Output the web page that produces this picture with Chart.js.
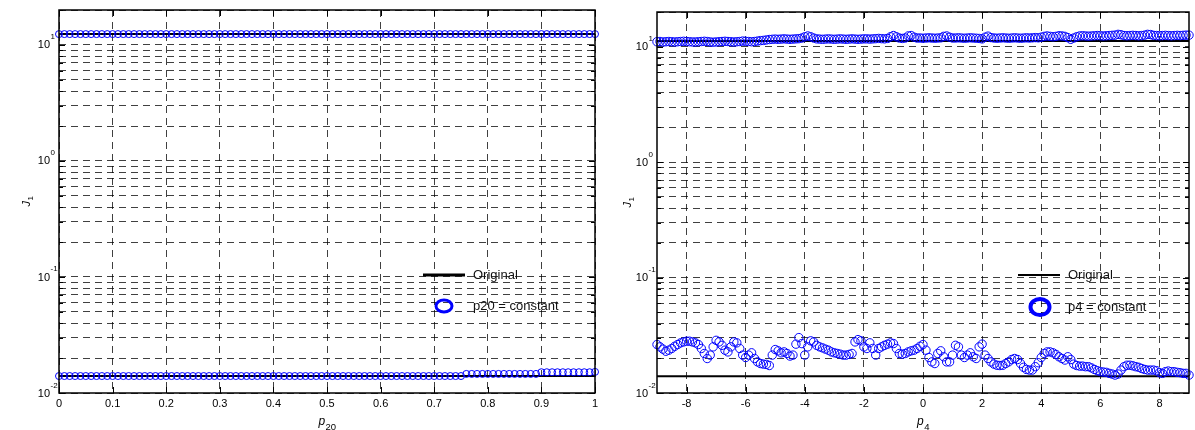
<!DOCTYPE html>
<html><head><meta charset="utf-8">
<script src="https://cdn.jsdelivr.net/npm/chart.js@4/dist/chart.umd.min.js"></script>
<style>
html,body{margin:0;padding:0;background:#fff;width:1195px;height:430px;overflow:hidden}
#c1{position:absolute;left:0;top:0}
#c2{position:absolute;left:600px;top:0}
</style></head><body>
<canvas id="c1" width="600" height="430"></canvas>
<canvas id="c2" width="595" height="430"></canvas>
<script>
// ---------- data: left panel (p20 sweep) ----------
const p20 = [0,0.01,0.02,0.03,0.04,0.05,0.06,0.07,0.08,0.09,
 0.1,0.11,0.12,0.13,0.14,0.15,0.16,0.17,0.18,0.19,
 0.2,0.21,0.22,0.23,0.24,0.25,0.26,0.27,0.28,0.29,
 0.3,0.31,0.32,0.33,0.34,0.35,0.36,0.37,0.38,0.39,
 0.4,0.41,0.42,0.43,0.44,0.45,0.46,0.47,0.48,0.49,
 0.5,0.51,0.52,0.53,0.54,0.55,0.56,0.57,0.58,0.59,
 0.6,0.61,0.62,0.63,0.64,0.65,0.66,0.67,0.68,0.69,
 0.7,0.71,0.72,0.73,0.74,0.75,0.76,0.77,0.78,0.79,
 0.8,0.81,0.82,0.83,0.84,0.85,0.86,0.87,0.88,0.89,
 0.9,0.91,0.92,0.93,0.94,0.95,0.96,0.97,0.98,0.99,1];
const J1_p20_upper = [12.4,12.4,12.4,12.4,12.4,12.4,12.4,12.4,12.4,12.4,
 12.4,12.4,12.4,12.4,12.4,12.4,12.4,12.4,12.4,12.4,
 12.4,12.4,12.4,12.4,12.4,12.4,12.4,12.4,12.4,12.4,
 12.4,12.4,12.4,12.4,12.4,12.4,12.4,12.4,12.4,12.4,
 12.4,12.4,12.4,12.4,12.4,12.4,12.4,12.4,12.4,12.4,
 12.4,12.4,12.4,12.4,12.4,12.4,12.4,12.4,12.4,12.4,
 12.4,12.4,12.4,12.4,12.4,12.4,12.4,12.4,12.4,12.4,
 12.4,12.4,12.4,12.4,12.4,12.4,12.4,12.4,12.4,12.4,
 12.4,12.4,12.4,12.4,12.4,12.4,12.4,12.4,12.4,12.4,
 12.4,12.4,12.4,12.4,12.4,12.4,12.4,12.4,12.4,12.4,12.4];
const J1_p20_lower = [0.0140,0.0140,0.0140,0.0140,0.0140,0.0140,0.0140,0.0140,0.0140,0.0140,
 0.0140,0.0140,0.0140,0.0140,0.0140,0.0140,0.0140,0.0140,0.0140,0.0140,
 0.0140,0.0140,0.0140,0.0140,0.0140,0.0140,0.0140,0.0140,0.0140,0.0140,
 0.0140,0.0140,0.0140,0.0140,0.0140,0.0140,0.0140,0.0140,0.0140,0.0140,
 0.0140,0.0140,0.0140,0.0140,0.0140,0.0140,0.0140,0.0140,0.0140,0.0140,
 0.0140,0.0140,0.0140,0.0140,0.0140,0.0140,0.0140,0.0140,0.0140,0.0140,
 0.0140,0.0140,0.0140,0.0140,0.0140,0.0140,0.0140,0.0140,0.0140,0.0140,
 0.0140,0.0140,0.0140,0.0140,0.0140,0.0140,0.0146,0.0146,0.0146,0.0146,
 0.0146,0.0146,0.0146,0.0146,0.0146,0.0146,0.0146,0.0146,0.0146,0.0146,
 0.0151,0.0151,0.0151,0.0151,0.0151,0.0151,0.0151,0.0151,0.0151,0.0151,0.0152];
const J1_original_left = [12.4, 0.0140];
const p20Ticks = [0,0.1,0.2,0.3,0.4,0.5,0.6,0.7,0.8,0.9,1];

// ---------- data: right panel (p4 sweep) ----------
const p4 = [-9,-8.9,-8.8,-8.7,-8.6,-8.5,-8.4,-8.3,-8.2,-8.1,
 -8,-7.9,-7.8,-7.7,-7.6,-7.5,-7.4,-7.3,-7.2,-7.1,
 -7,-6.9,-6.8,-6.7,-6.6,-6.5,-6.4,-6.3,-6.2,-6.1,
 -6,-5.9,-5.8,-5.7,-5.6,-5.5,-5.4,-5.3,-5.2,-5.1,
 -5,-4.9,-4.8,-4.7,-4.6,-4.5,-4.4,-4.3,-4.2,-4.1,
 -4,-3.9,-3.8,-3.7,-3.6,-3.5,-3.4,-3.3,-3.2,-3.1,
 -3,-2.9,-2.8,-2.7,-2.6,-2.5,-2.4,-2.3,-2.2,-2.1,
 -2,-1.9,-1.8,-1.7,-1.6,-1.5,-1.4,-1.3,-1.2,-1.1,
 -1,-0.9,-0.8,-0.7,-0.6,-0.5,-0.4,-0.3,-0.2,-0.1,
 0,0.1,0.2,0.3,0.4,0.5,0.6,0.7,0.8,0.9,
 1,1.1,1.2,1.3,1.4,1.5,1.6,1.7,1.8,1.9,
 2,2.1,2.2,2.3,2.4,2.5,2.6,2.7,2.8,2.9,
 3,3.1,3.2,3.3,3.4,3.5,3.6,3.7,3.8,3.9,
 4,4.1,4.2,4.3,4.4,4.5,4.6,4.7,4.8,4.9,
 5,5.1,5.2,5.3,5.4,5.5,5.6,5.7,5.8,5.9,
 6,6.1,6.2,6.3,6.4,6.5,6.6,6.7,6.8,6.9,
 7,7.1,7.2,7.3,7.4,7.5,7.6,7.7,7.8,7.9,
 8,8.1,8.2,8.3,8.4,8.5,8.6,8.7,8.8,8.9,9];
const J1_p4_upper = [11.05,11.1,11.0,11.05,11.1,11.05,11.0,11.05,11.1,11.15,
 11.1,11.05,11.0,11.0,11.05,11.1,11.15,11.1,11.0,10.95,
 11.0,11.05,11.1,11.15,11.1,11.05,11.0,11.05,11.1,11.2,
 11.15,11.1,11.05,11.1,11.2,11.3,11.35,11.45,11.55,11.6,
 11.65,11.6,11.65,11.7,11.65,11.6,11.65,11.7,11.75,11.9,
 12.2,12.4,12.2,11.9,11.7,11.65,11.6,11.65,11.7,11.65,
 11.6,11.65,11.7,11.65,11.6,11.65,11.7,11.65,11.6,11.65,
 11.7,11.7,11.65,11.7,11.75,11.8,11.75,11.7,11.8,12.2,
 12.5,12.2,11.9,11.8,11.9,12.4,12.5,12.1,11.9,11.9,
 11.85,11.9,11.95,11.9,11.85,11.9,11.95,12.3,12.4,12.1,
 11.9,11.9,11.95,11.9,11.85,11.9,11.95,11.9,11.85,11.8,
 11.7,12.1,12.35,12.0,11.9,11.85,11.9,11.95,11.9,11.85,
 11.9,11.95,11.9,11.85,11.9,11.95,11.9,11.95,12.0,11.95,
 12.1,12.3,12.4,12.3,12.2,12.3,12.45,12.4,12.3,12.0,
 11.6,11.9,12.2,12.4,12.45,12.4,12.35,12.4,12.45,12.5,
 12.45,12.4,12.45,12.5,12.55,12.6,12.8,12.7,12.5,12.45,
 12.5,12.55,12.5,12.45,12.5,12.6,12.8,12.75,12.55,12.5,
 12.45,12.5,12.55,12.5,12.45,12.5,12.55,12.5,12.55,12.6,12.6];
const J1_p4_lower = [0.0263,0.0251,0.0240,0.0230,0.0235,0.0243,0.0254,0.0263,0.0272,0.0277,
 0.0281,0.0281,0.0277,0.0272,0.0263,0.0243,0.0220,0.0199,0.0213,0.0251,
 0.0286,0.0277,0.0259,0.0235,0.0227,0.0251,0.0277,0.0272,0.0243,0.0213,
 0.0203,0.0213,0.0223,0.0199,0.0186,0.0180,0.0178,0.0177,0.0173,0.0213,
 0.0238,0.0232,0.0223,0.0227,0.0220,0.0209,0.0213,0.0265,0.0302,0.0268,
 0.0213,0.0251,0.0283,0.0277,0.0259,0.0251,0.0246,0.0240,0.0235,0.0227,
 0.0223,0.0220,0.0217,0.0213,0.0213,0.0216,0.0220,0.0277,0.0290,0.0283,
 0.0251,0.0243,0.0272,0.0243,0.0213,0.0243,0.0251,0.0259,0.0265,0.0272,
 0.0268,0.0243,0.0220,0.0217,0.0220,0.0227,0.0232,0.0235,0.0243,0.0254,
 0.0263,0.0235,0.0203,0.0186,0.0180,0.0220,0.0232,0.0206,0.0186,0.0186,
 0.0213,0.0259,0.0251,0.0213,0.0203,0.0213,0.0223,0.0206,0.0199,0.0251,
 0.0265,0.0213,0.0199,0.0186,0.0178,0.0174,0.0173,0.0174,0.0180,0.0186,
 0.0195,0.0199,0.0195,0.0180,0.0167,0.0160,0.0158,0.0158,0.0169,0.0183,
 0.0203,0.0220,0.0227,0.0227,0.0223,0.0216,0.0206,0.0199,0.0193,0.0206,
 0.0195,0.0178,0.0173,0.0171,0.0171,0.0169,0.0169,0.0165,0.0160,0.0156,
 0.0153,0.0152,0.0151,0.0148,0.0146,0.0143,0.0146,0.0158,0.0169,0.0174,
 0.0174,0.0172,0.0169,0.0167,0.0163,0.0160,0.0158,0.0158,0.0158,0.0156,
 0.0150,0.0148,0.0153,0.0155,0.0153,0.0153,0.0151,0.0150,0.0148,0.0148,0.0143];
const J1_original_right = [11.2, 0.0140];
const p4Ticks = [-8,-6,-4,-2,0,2,4,6,8];

// ---------- shared axis ticks ----------
const yTicks = [0.01,0.02,0.03,0.04,0.05,0.06,0.07,0.08,0.09,
 0.1,0.2,0.3,0.4,0.5,0.6,0.7,0.8,0.9,
 1,2,3,4,5,6,7,8,9,10,20];
const yMajor = [0.01,0.1,1,10];
const yMajorExp = ['-2','-1','0','1'];
const yLimits = [0.01, 20];

const FONT = "'Liberation Sans', Arial, Helvetica, sans-serif";
const BLUE = '#0000ff';

function pts(xs, ys) { return xs.map((x, i) => ({x: x, y: ys[i]})); }
function hline(xs, v) { return [{x: xs[0], y: v}, {x: xs[xs.length - 1], y: v}]; }

function makeChart(id, o) {
  const framePlugin = {
    id: 'frame' + id,
    afterDraw(chart) {
      const ctx = chart.ctx, a = chart.chartArea;
      const xs = chart.scales.x, ys = chart.scales.y;
      ctx.save();
      ctx.strokeStyle = '#000';
      ctx.lineWidth = 1.5;
      ctx.strokeRect(a.left, a.top, a.right - a.left, a.bottom - a.top);
      ctx.lineWidth = 1;
      const seg = (x1, y1, x2, y2) => { ctx.beginPath(); ctx.moveTo(x1, y1); ctx.lineTo(x2, y2); ctx.stroke(); };
      o.xTicks.forEach(v => {
        const x = Math.round(xs.getPixelForValue(v)) + 0.5;
        seg(x, a.bottom, x, a.bottom - 6);
        seg(x, a.top, x, a.top + 6);
      });
      yTicks.forEach(v => {
        const y = Math.round(ys.getPixelForValue(v)) + 0.5;
        const l = yMajor.indexOf(v) >= 0 ? 6 : 4;
        seg(a.left, y, a.left + l, y);
        seg(a.right, y, a.right - l, y);
      });
      // y tick labels 10^k
      ctx.fillStyle = '#000';
      yMajor.forEach((v, i) => {
        const y = ys.getPixelForValue(v);
        ctx.font = '11px ' + FONT;
        ctx.textAlign = 'right';
        ctx.textBaseline = 'middle';
        ctx.fillText('10', a.left - 9, y + 0.5);
        ctx.font = '8px ' + FONT;
        ctx.textAlign = 'left';
        ctx.textBaseline = 'alphabetic';
        ctx.fillText(yMajorExp[i], a.left - 8.5, y - 5.5);
      });
      // y title J1 (rotated)
      ctx.save();
      ctx.translate(o.yTitleX, (a.top + a.bottom) / 2);
      ctx.rotate(-Math.PI / 2);
      ctx.font = 'italic 11px ' + FONT;
      const wJ = ctx.measureText('J').width;
      ctx.font = '8px ' + FONT;
      const w1 = ctx.measureText('1').width;
      const x0 = -(wJ + w1) / 2;
      ctx.textAlign = 'left';
      ctx.textBaseline = 'alphabetic';
      ctx.font = 'italic 11px ' + FONT;
      ctx.fillText('J', x0, 0);
      ctx.font = '8px ' + FONT;
      ctx.fillText('1', x0 + wJ + 0.5, 3);
      ctx.restore();
      // x title p_sub
      ctx.font = 'italic 12px ' + FONT;
      const wp = ctx.measureText('p').width;
      ctx.font = '9.5px ' + FONT;
      const ws = ctx.measureText(o.xSub).width;
      const cx = (a.left + a.right) / 2 - (wp + ws) / 2;
      ctx.textAlign = 'left';
      ctx.font = 'italic 12px ' + FONT;
      ctx.fillText('p', cx, 425);
      ctx.font = '9.5px ' + FONT;
      ctx.fillText(o.xSub, cx + wp + 0.5, 430);
      // legend (drawn inside axes, no box)
      const L = o.legend;
      ctx.strokeStyle = '#000';
      ctx.lineWidth = L.lineW;
      seg(L.lineX1, L.y1, L.lineX2, L.y1);
      ctx.strokeStyle = BLUE;
      ctx.lineWidth = L.markW;
      ctx.beginPath();
      ctx.ellipse(L.markX, L.y2, L.rx, L.ry, 0, 0, Math.PI * 2);
      ctx.stroke();
      ctx.fillStyle = '#111';
      ctx.font = '13px ' + FONT;
      ctx.textBaseline = 'middle';
      ctx.fillText('Original', L.textX, L.y1);
      ctx.fillText(o.legendLabel, L.textX, L.y2);
      ctx.restore();
    }
  };

  return new Chart(document.getElementById(id), {
    type: 'scatter',
    data: {
      datasets: [
        {label: o.legendLabel, data: pts(o.xs, o.upper), showLine: false, pointStyle: 'circle',
         pointRadius: o.r, pointBorderWidth: 1, borderColor: BLUE, backgroundColor: 'rgba(0,0,0,0)', clip: false},
        {label: o.legendLabel + ' (lower)', data: pts(o.xs, o.lower), showLine: false, pointStyle: 'circle',
         pointRadius: o.r, pointBorderWidth: 1, borderColor: BLUE, backgroundColor: 'rgba(0,0,0,0)', clip: false},
        {label: 'Original', data: hline(o.xs, o.original[0]), showLine: true, pointRadius: 0,
         borderColor: '#000', borderWidth: 2, clip: false},
        {label: 'Original (lower)', data: hline(o.xs, o.original[1]), showLine: true, pointRadius: 0,
         borderColor: '#000', borderWidth: 2, clip: false}
      ]
    },
    options: {
      responsive: false,
      animation: false,
      devicePixelRatio: 1,
      layout: {padding: {top: o.padTop, right: o.padRight, left: 0, bottom: 0}},
      plugins: {legend: {display: false}, tooltip: {enabled: false}},
      scales: {
        x: {
          type: 'linear', min: o.xMin, max: o.xMax,
          afterBuildTicks: s => { s.ticks = o.xTicks.map(v => ({value: v})); },
          afterFit: s => { s.height = 37; s.paddingLeft = 0; s.paddingRight = 0; },
          ticks: {color: '#000', font: {family: FONT, size: 11}, padding: 4, maxRotation: 0, autoSkip: false,
                  callback: v => String(v)},
          grid: {color: 'rgba(0,0,0,0.75)', lineWidth: 1, drawTicks: false},
          border: {display: false, dash: [7, 5]}
        },
        y: {
          type: 'logarithmic', min: yLimits[0], max: yLimits[1],
          afterBuildTicks: s => { s.ticks = yTicks.map(v => ({value: v, major: yMajor.indexOf(v) >= 0})); },
          afterFit: s => { s.width = o.yWidth; s.paddingTop = 0; s.paddingBottom = 0; },
          ticks: {display: false},
          grid: {color: 'rgba(0,0,0,0.75)', lineWidth: 1, drawTicks: false},
          border: {display: false, dash: [7, 5]}
        }
      }
    },
    plugins: [framePlugin]
  });
}

makeChart('c1', {
  xs: p20, upper: J1_p20_upper, lower: J1_p20_lower, original: J1_original_left,
  xMin: 0, xMax: 1, xTicks: p20Ticks, xSub: '20', r: 3.5,
  padTop: 10, padRight: 4, yWidth: 59, yTitleX: 30,
  legendLabel: 'p20 = constant',
  legend: {lineX1: 423, lineX2: 465, y1: 275, y2: 306, markX: 444, rx: 8, ry: 6, lineW: 3, markW: 3, textX: 473}
});
makeChart('c2', {
  xs: p4, upper: J1_p4_upper, lower: J1_p4_lower, original: J1_original_right,
  xMin: -9, xMax: 9, xTicks: p4Ticks, xSub: '4', r: 4.2,
  padTop: 12, padRight: 6, yWidth: 57, yTitleX: 31,
  legendLabel: 'p4 = constant',
  legend: {lineX1: 418, lineX2: 460, y1: 275, y2: 307, markX: 440, rx: 9.5, ry: 8, lineW: 2, markW: 4, textX: 468}
});
</script>
</body></html>
